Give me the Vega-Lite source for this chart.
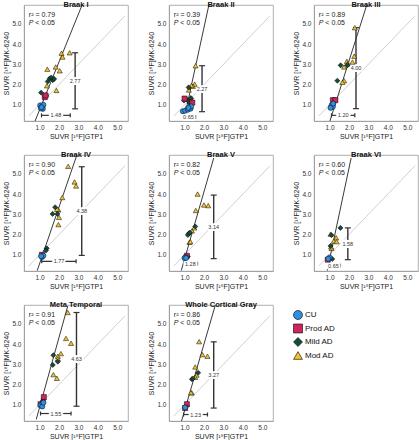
{
  "$schema": "https://vega.github.io/schema/vega-lite/v6.json",
  "background": "white",
  "padding": {"left": 2, "top": 0, "right": 0, "bottom": 0},
  "config": {
    "font": "Liberation Sans",
    "view": {"stroke": "#9a9a9a", "strokeWidth": 0.8},
    "axis": {"grid": false, "domainColor": "#9a9a9a", "domainWidth": 0.8, "ticks": false, "labelFontSize": 6.5, "labelColor": "#333", "labelPadding": 3, "labelOverlap": false, "labelFlush": false, "titleFontSize": 7, "titleFontWeight": "normal", "titleColor": "#222", "titlePadding": 2},
    "text": {"font": "Liberation Sans"}
  },
  "data": {"values": [
    {"p":"Braak I","k":"pt","g":"Mod AD","x":2.13,"y":3.55},{"p":"Braak I","k":"pt","g":"Mod AD","x":2.18,"y":3.36},{"p":"Braak I","k":"pt","g":"Mod AD","x":2.55,"y":3.57},{"p":"Braak I","k":"pt","g":"Mod AD","x":1.4,"y":2.76},{"p":"Braak I","k":"pt","g":"Mod AD","x":1.83,"y":2.87},{"p":"Braak I","k":"pt","g":"Mod AD","x":2.04,"y":2.68},{"p":"Braak I","k":"pt","g":"Mod AD","x":1.38,"y":1.94},{"p":"Braak I","k":"pt","g":"Mod AD","x":1.87,"y":1.71},{"p":"Braak I","k":"pt","g":"Mod AD","x":1.35,"y":1.53},
    {"p":"Braak I","k":"pt","g":"Mild AD","x":1.08,"y":1.6},{"p":"Braak I","k":"pt","g":"Mild AD","x":1.42,"y":2.15},{"p":"Braak I","k":"pt","g":"Mild AD","x":1.52,"y":2.3},{"p":"Braak I","k":"pt","g":"Mild AD","x":1.6,"y":2.35},{"p":"Braak I","k":"pt","g":"Mild AD","x":1.68,"y":2.22},{"p":"Braak I","k":"pt","g":"Mild AD","x":1.75,"y":2.28},
    {"p":"Braak I","k":"pt","g":"Prod AD","x":1.27,"y":1.38},{"p":"Braak I","k":"pt","g":"Prod AD","x":1.31,"y":1.46},
    {"p":"Braak I","k":"pt","g":"CU","x":1.03,"y":0.97},{"p":"Braak I","k":"pt","g":"CU","x":1.14,"y":0.9},{"p":"Braak I","k":"pt","g":"CU","x":1.17,"y":0.8},{"p":"Braak I","k":"pt","g":"CU","x":1.07,"y":0.82},{"p":"Braak I","k":"pt","g":"CU","x":1.2,"y":1.0},{"p":"Braak I","k":"pt","g":"CU","x":1.1,"y":0.88},
    {"p":"Braak I","k":"reg","x":0.74,"y":0.13,"x2":3.26,"y2":6.1},
    {"p":"Braak I","k":"vb","x":2.83,"y":0.8,"y2":3.57,"lx":2.83,"ly":2.19,"t":"2.77"},
    {"p":"Braak I","k":"hb","x":1.1,"x2":2.58,"y":0.48,"lx":1.84,"ly":0.48,"t":"1.48"},
    {"p":"Braak I","k":"stat","x":0.45,"y":5.42,"t":"r² = 0.79"},

    {"p":"Braak II","k":"pt","g":"Mod AD","x":1.57,"y":2.93},{"p":"Braak II","k":"pt","g":"Mod AD","x":1.52,"y":2.02},{"p":"Braak II","k":"pt","g":"Mod AD","x":1.43,"y":1.92},{"p":"Braak II","k":"pt","g":"Mod AD","x":1.35,"y":1.95},{"p":"Braak II","k":"pt","g":"Mod AD","x":1.22,"y":1.73},{"p":"Braak II","k":"pt","g":"Mod AD","x":1.09,"y":0.84},{"p":"Braak II","k":"pt","g":"Mod AD","x":1.3,"y":1.35},
    {"p":"Braak II","k":"pt","g":"Mild AD","x":1.21,"y":1.86},{"p":"Braak II","k":"pt","g":"Mild AD","x":0.97,"y":1.21},{"p":"Braak II","k":"pt","g":"Mild AD","x":1.14,"y":1.24},{"p":"Braak II","k":"pt","g":"Mild AD","x":1.26,"y":1.08},{"p":"Braak II","k":"pt","g":"Mild AD","x":1.34,"y":1.32},
    {"p":"Braak II","k":"pt","g":"Prod AD","x":1.0,"y":1.31},{"p":"Braak II","k":"pt","g":"Prod AD","x":1.4,"y":1.11},
    {"p":"Braak II","k":"pt","g":"CU","x":0.91,"y":0.68},{"p":"Braak II","k":"pt","g":"CU","x":1.03,"y":0.71},{"p":"Braak II","k":"pt","g":"CU","x":1.17,"y":0.76},{"p":"Braak II","k":"pt","g":"CU","x":1.31,"y":0.81},{"p":"Braak II","k":"pt","g":"CU","x":1.34,"y":0.92},{"p":"Braak II","k":"pt","g":"CU","x":1.2,"y":0.85},
    {"p":"Braak II","k":"reg","x":0.97,"y":0.27,"x2":2.29,"y2":6.1},
    {"p":"Braak II","k":"vb","x":1.9,"y":0.66,"y2":2.93,"lx":1.9,"ly":1.8,"t":"2.27"},
    {"p":"Braak II","k":"hb","x":0.92,"x2":1.57,"y":0.4,"lx":1.2,"ly":0.4,"t":"0.65"},
    {"p":"Braak II","k":"stat","x":0.45,"y":5.42,"t":"r² = 0.39"},

    {"p":"Braak III","k":"pt","g":"Mod AD","x":2.3,"y":4.81},{"p":"Braak III","k":"pt","g":"Mod AD","x":2.27,"y":3.4},{"p":"Braak III","k":"pt","g":"Mod AD","x":2.18,"y":3.11},{"p":"Braak III","k":"pt","g":"Mod AD","x":1.89,"y":3.15},{"p":"Braak III","k":"pt","g":"Mod AD","x":1.92,"y":3.03},{"p":"Braak III","k":"pt","g":"Mod AD","x":1.75,"y":2.87},{"p":"Braak III","k":"pt","g":"Mod AD","x":1.75,"y":2.19},{"p":"Braak III","k":"pt","g":"Mod AD","x":1.66,"y":2.11},
    {"p":"Braak III","k":"pt","g":"Mild AD","x":1.57,"y":2.95},{"p":"Braak III","k":"pt","g":"Mild AD","x":1.92,"y":2.95},{"p":"Braak III","k":"pt","g":"Mild AD","x":1.4,"y":2.19},
    {"p":"Braak III","k":"pt","g":"Prod AD","x":1.17,"y":1.23},{"p":"Braak III","k":"pt","g":"Prod AD","x":1.3,"y":1.23},
    {"p":"Braak III","k":"pt","g":"CU","x":1.1,"y":0.97},{"p":"Braak III","k":"pt","g":"CU","x":1.17,"y":0.9},{"p":"Braak III","k":"pt","g":"CU","x":1.05,"y":0.85},{"p":"Braak III","k":"pt","g":"CU","x":1.19,"y":1.06},
    {"p":"Braak III","k":"reg","x":0.97,"y":0.05,"x2":2.97,"y2":6.1},
    {"p":"Braak III","k":"vb","x":2.36,"y":0.81,"y2":4.81,"lx":2.36,"ly":2.81,"t":"4.00"},
    {"p":"Braak III","k":"hb","x":1.1,"x2":2.3,"y":0.48,"lx":1.7,"ly":0.48,"t":"1.20"},
    {"p":"Braak III","k":"stat","x":0.45,"y":5.42,"t":"r² = 0.89"},

    {"p":"Braak IV","k":"pt","g":"Mod AD","x":2.47,"y":5.37},{"p":"Braak IV","k":"pt","g":"Mod AD","x":2.8,"y":4.6},{"p":"Braak IV","k":"pt","g":"Mod AD","x":2.88,"y":4.4},{"p":"Braak IV","k":"pt","g":"Mod AD","x":2.17,"y":3.83},{"p":"Braak IV","k":"pt","g":"Mod AD","x":1.97,"y":3.22},{"p":"Braak IV","k":"pt","g":"Mod AD","x":1.9,"y":3.25},{"p":"Braak IV","k":"pt","g":"Mod AD","x":2.0,"y":2.85},{"p":"Braak IV","k":"pt","g":"Mod AD","x":1.97,"y":2.49},
    {"p":"Braak IV","k":"pt","g":"Mild AD","x":1.8,"y":3.35},{"p":"Braak IV","k":"pt","g":"Mild AD","x":1.67,"y":3.02},{"p":"Braak IV","k":"pt","g":"Mild AD","x":1.92,"y":3.02},{"p":"Braak IV","k":"pt","g":"Mild AD","x":1.37,"y":1.32},{"p":"Braak IV","k":"pt","g":"Mild AD","x":1.33,"y":1.21},
    {"p":"Braak IV","k":"pt","g":"Prod AD","x":1.12,"y":1.0},
    {"p":"Braak IV","k":"pt","g":"CU","x":1.13,"y":0.89},{"p":"Braak IV","k":"pt","g":"CU","x":1.2,"y":0.96},{"p":"Braak IV","k":"pt","g":"CU","x":1.08,"y":0.93},
    {"p":"Braak IV","k":"reg","x":0.88,"y":0.22,"x2":2.98,"y2":6.1},
    {"p":"Braak IV","k":"vb","x":3.17,"y":0.97,"y2":5.35,"lx":3.17,"ly":3.16,"t":"4.38"},
    {"p":"Braak IV","k":"hb","x":1.11,"x2":2.88,"y":0.68,"lx":2.0,"ly":0.68,"t":"1.77"},
    {"p":"Braak IV","k":"stat","x":0.45,"y":5.42,"t":"r² = 0.90"},

    {"p":"Braak V","k":"pt","g":"Mod AD","x":1.67,"y":4.0},{"p":"Braak V","k":"pt","g":"Mod AD","x":2.0,"y":3.46},{"p":"Braak V","k":"pt","g":"Mod AD","x":2.22,"y":3.43},{"p":"Braak V","k":"pt","g":"Mod AD","x":1.58,"y":3.19},{"p":"Braak V","k":"pt","g":"Mod AD","x":1.5,"y":2.33},{"p":"Braak V","k":"pt","g":"Mod AD","x":1.38,"y":2.18},{"p":"Braak V","k":"pt","g":"Mod AD","x":1.25,"y":1.62},{"p":"Braak V","k":"pt","g":"Mod AD","x":1.3,"y":1.65},
    {"p":"Braak V","k":"pt","g":"Mild AD","x":1.55,"y":2.4},{"p":"Braak V","k":"pt","g":"Mild AD","x":1.22,"y":2.05},{"p":"Braak V","k":"pt","g":"Mild AD","x":1.17,"y":1.98},{"p":"Braak V","k":"pt","g":"Mild AD","x":1.27,"y":2.1},{"p":"Braak V","k":"pt","g":"Mild AD","x":1.17,"y":0.92},
    {"p":"Braak V","k":"pt","g":"Prod AD","x":1.12,"y":0.95},
    {"p":"Braak V","k":"pt","g":"CU","x":1.05,"y":0.89},{"p":"Braak V","k":"pt","g":"CU","x":1.0,"y":0.84},{"p":"Braak V","k":"pt","g":"CU","x":1.08,"y":0.84},
    {"p":"Braak V","k":"reg","x":0.83,"y":0.22,"x2":2.5,"y2":5.78},
    {"p":"Braak V","k":"vb","x":2.5,"y":0.81,"y2":3.95,"lx":2.5,"ly":2.38,"t":"3.14"},
    {"p":"Braak V","k":"hb","x":0.97,"x2":1.67,"y":0.56,"lx":1.3,"ly":0.56,"t":"1.28"},
    {"p":"Braak V","k":"stat","x":0.45,"y":5.42,"t":"r² = 0.82"},

    {"p":"Braak VI","k":"pt","g":"Mod AD","x":1.05,"y":2.02},{"p":"Braak VI","k":"pt","g":"Mod AD","x":1.34,"y":1.84},{"p":"Braak VI","k":"pt","g":"Mod AD","x":1.22,"y":1.68},{"p":"Braak VI","k":"pt","g":"Mod AD","x":1.36,"y":1.65},{"p":"Braak VI","k":"pt","g":"Mod AD","x":1.1,"y":1.32},{"p":"Braak VI","k":"pt","g":"Mod AD","x":1.08,"y":1.4},
    {"p":"Braak VI","k":"pt","g":"Mild AD","x":1.56,"y":2.33},{"p":"Braak VI","k":"pt","g":"Mild AD","x":1.1,"y":1.97},{"p":"Braak VI","k":"pt","g":"Mild AD","x":1.05,"y":1.44},{"p":"Braak VI","k":"pt","g":"Mild AD","x":1.02,"y":0.84},{"p":"Braak VI","k":"pt","g":"Mild AD","x":1.14,"y":0.79},
    {"p":"Braak VI","k":"pt","g":"Prod AD","x":0.91,"y":0.76},
    {"p":"Braak VI","k":"pt","g":"CU","x":1.0,"y":0.87},{"p":"Braak VI","k":"pt","g":"CU","x":0.93,"y":0.8},
    {"p":"Braak VI","k":"reg","x":0.88,"y":0.22,"x2":2.11,"y2":5.78},
    {"p":"Braak VI","k":"vb","x":1.94,"y":0.76,"y2":2.33,"lx":1.94,"ly":1.55,"t":"1.58"},
    {"p":"Braak VI","k":"hb","x":0.91,"x2":1.56,"y":0.47,"lx":1.2,"ly":0.47,"t":"0.65"},
    {"p":"Braak VI","k":"stat","x":0.45,"y":5.42,"t":"r² = 0.60"},

    {"p":"Meta Temporal","k":"pt","g":"Mod AD","x":2.45,"y":5.56},{"p":"Meta Temporal","k":"pt","g":"Mod AD","x":2.36,"y":4.28},{"p":"Meta Temporal","k":"pt","g":"Mod AD","x":2.62,"y":4.04},{"p":"Meta Temporal","k":"pt","g":"Mod AD","x":2.1,"y":3.53},{"p":"Meta Temporal","k":"pt","g":"Mod AD","x":1.94,"y":3.4},{"p":"Meta Temporal","k":"pt","g":"Mod AD","x":1.94,"y":3.27},{"p":"Meta Temporal","k":"pt","g":"Mod AD","x":1.71,"y":2.49},{"p":"Meta Temporal","k":"pt","g":"Mod AD","x":1.89,"y":2.31},{"p":"Meta Temporal","k":"pt","g":"Mod AD","x":1.14,"y":1.19},
    {"p":"Meta Temporal","k":"pt","g":"Mild AD","x":1.71,"y":3.45},{"p":"Meta Temporal","k":"pt","g":"Mild AD","x":1.68,"y":2.97},{"p":"Meta Temporal","k":"pt","g":"Mild AD","x":1.94,"y":3.13},{"p":"Meta Temporal","k":"pt","g":"Mild AD","x":1.2,"y":1.27},{"p":"Meta Temporal","k":"pt","g":"Mild AD","x":1.17,"y":1.2},
    {"p":"Meta Temporal","k":"pt","g":"Prod AD","x":1.22,"y":1.38},{"p":"Meta Temporal","k":"pt","g":"Prod AD","x":1.05,"y":1.03},
    {"p":"Meta Temporal","k":"pt","g":"CU","x":1.05,"y":0.97},{"p":"Meta Temporal","k":"pt","g":"CU","x":1.14,"y":0.92},{"p":"Meta Temporal","k":"pt","g":"CU","x":1.2,"y":1.11},
    {"p":"Meta Temporal","k":"reg","x":0.83,"y":0.28,"x2":2.45,"y2":5.88},
    {"p":"Meta Temporal","k":"vb","x":2.9,"y":0.93,"y2":5.56,"lx":2.9,"ly":3.25,"t":"4.63"},
    {"p":"Meta Temporal","k":"hb","x":1.05,"x2":2.62,"y":0.57,"lx":1.84,"ly":0.57,"t":"1.55"},
    {"p":"Meta Temporal","k":"stat","x":0.45,"y":5.42,"t":"r² = 0.91"},

    {"p":"Whole Cortical Gray","k":"pt","g":"Mod AD","x":1.75,"y":4.12},{"p":"Whole Cortical Gray","k":"pt","g":"Mod AD","x":1.92,"y":3.48},{"p":"Whole Cortical Gray","k":"pt","g":"Mod AD","x":2.18,"y":3.4},{"p":"Whole Cortical Gray","k":"pt","g":"Mod AD","x":1.55,"y":2.87},{"p":"Whole Cortical Gray","k":"pt","g":"Mod AD","x":1.62,"y":2.47},{"p":"Whole Cortical Gray","k":"pt","g":"Mod AD","x":1.55,"y":2.36},{"p":"Whole Cortical Gray","k":"pt","g":"Mod AD","x":1.37,"y":1.59},{"p":"Whole Cortical Gray","k":"pt","g":"Mod AD","x":1.33,"y":1.6},
    {"p":"Whole Cortical Gray","k":"pt","g":"Mild AD","x":1.7,"y":2.58},{"p":"Whole Cortical Gray","k":"pt","g":"Mild AD","x":1.38,"y":2.26},{"p":"Whole Cortical Gray","k":"pt","g":"Mild AD","x":1.43,"y":2.3},{"p":"Whole Cortical Gray","k":"pt","g":"Mild AD","x":1.12,"y":0.95},
    {"p":"Whole Cortical Gray","k":"pt","g":"Prod AD","x":1.12,"y":1.03},{"p":"Whole Cortical Gray","k":"pt","g":"Prod AD","x":1.03,"y":0.84},
    {"p":"Whole Cortical Gray","k":"pt","g":"CU","x":1.03,"y":0.87},
    {"p":"Whole Cortical Gray","k":"reg","x":0.83,"y":0.15,"x2":2.58,"y2":5.91},
    {"p":"Whole Cortical Gray","k":"vb","x":2.5,"y":0.84,"y2":4.11,"lx":2.5,"ly":2.48,"t":"3.27"},
    {"p":"Whole Cortical Gray","k":"hb","x":0.95,"x2":2.18,"y":0.52,"lx":1.57,"ly":0.52,"t":"1.23"},
    {"p":"Whole Cortical Gray","k":"stat","x":0.45,"y":5.42,"t":"r² = 0.86"},

    {"p":"Braak I","k":"id","x":0.45,"y":0.45,"x2":5.4,"y2":5.4},
    {"p":"Braak II","k":"id","x":0.45,"y":0.45,"x2":5.4,"y2":5.4},
    {"p":"Braak III","k":"id","x":0.45,"y":0.45,"x2":5.4,"y2":5.4},
    {"p":"Braak IV","k":"id","x":0.45,"y":0.45,"x2":5.4,"y2":5.4},
    {"p":"Braak V","k":"id","x":0.45,"y":0.45,"x2":5.4,"y2":5.4},
    {"p":"Braak VI","k":"id","x":0.45,"y":0.45,"x2":5.4,"y2":5.4},
    {"p":"Meta Temporal","k":"id","x":0.45,"y":0.45,"x2":5.4,"y2":5.4},
    {"p":"Whole Cortical Gray","k":"id","x":0.45,"y":0.45,"x2":5.4,"y2":5.4}
  ]},
  "facet": {"field": "p", "type": "nominal", "sort": ["Braak I","Braak II","Braak III","Braak IV","Braak V","Braak VI","Meta Temporal","Whole Cortical Gray"],
    "header": {"title": null, "labelFontWeight": "bold", "labelFontSize": 7.5, "labelColor": "#111", "labelPadding": -3}},
  "columns": 3,
  "spacing": {"row": 10, "column": 18},
  "resolve": {"axis": {"x": "independent", "y": "independent"}},
  "spec": {
    "width": 104,
    "height": 116,
    "layer": [
      {"transform": [{"filter": "datum.k === 'id'"}],
       "mark": {"type": "rule", "color": "#c4c4c4", "strokeWidth": 0.8},
       "encoding": {
         "x": {"field": "x", "type": "quantitative", "scale": {"domain": [0.2, 5.55], "nice": false, "zero": false}, "axis": {"title": "SUVR [¹⁸F]GTP1", "values": [1,2,3,4,5], "tickCount": 10, "format": ".1f", "labelOverlap": false, "labelFlush": false}},
         "y": {"field": "y", "type": "quantitative", "scale": {"domain": [0.2, 5.93], "nice": false, "zero": false}, "axis": {"title": "SUVR [¹⁸F]MK-6240", "values": [1,2,3,4,5], "tickCount": 10, "format": ".1f", "labelOverlap": false, "labelFlush": false}},
         "x2": {"field": "x2"}, "y2": {"field": "y2"}}},
      {"transform": [{"filter": "datum.k === 'reg'"}],
       "mark": {"type": "rule", "color": "#3a3a3a", "strokeWidth": 1, "clip": true},
       "encoding": {"x": {"field": "x", "type": "quantitative"}, "y": {"field": "y", "type": "quantitative"}, "x2": {"field": "x2"}, "y2": {"field": "y2"}}},
      {"transform": [{"filter": "datum.k === 'vb'"}],
       "mark": {"type": "rule", "color": "#333", "strokeWidth": 1.4},
       "encoding": {"x": {"field": "x", "type": "quantitative"}, "y": {"field": "y", "type": "quantitative"}, "y2": {"field": "y2"}}},
      {"transform": [{"filter": "datum.k === 'vb'"}],
       "mark": {"type": "tick", "orient": "horizontal", "color": "#333", "size": 6, "thickness": 1.2, "opacity": 1},
       "encoding": {"x": {"field": "x", "type": "quantitative"}, "y": {"field": "y", "type": "quantitative"}}},
      {"transform": [{"filter": "datum.k === 'vb'"}],
       "mark": {"type": "tick", "orient": "horizontal", "color": "#333", "size": 6, "thickness": 1.2, "opacity": 1},
       "encoding": {"x": {"field": "x", "type": "quantitative"}, "y": {"field": "y2", "type": "quantitative"}}},
      {"transform": [{"filter": "datum.k === 'hb'"}],
       "mark": {"type": "rule", "color": "#333", "strokeWidth": 1.2},
       "encoding": {"x": {"field": "x", "type": "quantitative"}, "x2": {"field": "x2"}, "y": {"field": "y", "type": "quantitative"}}},
      {"transform": [{"filter": "datum.k === 'hb'"}],
       "mark": {"type": "tick", "orient": "vertical", "color": "#333", "size": 4, "thickness": 1.2, "opacity": 1},
       "encoding": {"x": {"field": "x", "type": "quantitative"}, "y": {"field": "y", "type": "quantitative"}}},
      {"transform": [{"filter": "datum.k === 'hb'"}],
       "mark": {"type": "tick", "orient": "vertical", "color": "#333", "size": 4, "thickness": 1.2, "opacity": 1},
       "encoding": {"x": {"field": "x2", "type": "quantitative"}, "y": {"field": "y", "type": "quantitative"}}},
      {"transform": [{"filter": "datum.k === 'vb' || datum.k === 'hb'"}],
       "mark": {"type": "text", "fontSize": 5.5, "stroke": "white", "strokeWidth": 4, "fill": "white"},
       "encoding": {"x": {"field": "lx", "type": "quantitative"}, "y": {"field": "ly", "type": "quantitative"}, "text": {"field": "t"}}},
      {"transform": [{"filter": "datum.k === 'vb' || datum.k === 'hb'"}],
       "mark": {"type": "text", "fontSize": 5.5, "color": "#333"},
       "encoding": {"x": {"field": "lx", "type": "quantitative"}, "y": {"field": "ly", "type": "quantitative"}, "text": {"field": "t"}}},
      {"transform": [{"filter": "datum.k === 'pt'"}],
       "mark": {"type": "point", "filled": true, "stroke": "black", "strokeWidth": 0.5, "size": 26, "opacity": 1},
       "encoding": {
         "x": {"field": "x", "type": "quantitative"},
         "y": {"field": "y", "type": "quantitative"},
         "fill": {"field": "g", "type": "nominal", "scale": {"domain": ["CU","Prod AD","Mild AD","Mod AD"], "range": ["#2f8fe0","#d0245f","#164a39","#f2c12e"]},
                  "legend": {"orient": "none", "legendX": 269, "legendY": 305, "title": null, "labelFontSize": 8, "labelColor": "#111", "symbolSize": 80, "symbolStrokeColor": "black", "symbolStrokeWidth": 0.6, "rowPadding": 1.5, "labelOffset": 2}},
         "shape": {"field": "g", "type": "nominal", "scale": {"domain": ["CU","Prod AD","Mild AD","Mod AD"], "range": ["circle","square","diamond","triangle-up"]}}}},
      {"transform": [{"filter": "datum.k === 'stat'"}],
       "mark": {"type": "text", "fontSize": 7, "align": "left", "color": "#222"},
       "encoding": {"x": {"field": "x", "type": "quantitative"}, "y": {"field": "y", "type": "quantitative"}, "text": {"field": "t"}}},
      {"transform": [{"filter": "datum.k === 'stat'"}],
       "mark": {"type": "text", "fontSize": 7, "align": "left", "fontStyle": "italic", "color": "#222", "dy": 8},
       "encoding": {"x": {"field": "x", "type": "quantitative"}, "y": {"field": "y", "type": "quantitative"}, "text": {"value": "P"}}},
      {"transform": [{"filter": "datum.k === 'stat'"}],
       "mark": {"type": "text", "fontSize": 7, "align": "left", "color": "#222", "dy": 8, "dx": 6.5},
       "encoding": {"x": {"field": "x", "type": "quantitative"}, "y": {"field": "y", "type": "quantitative"}, "text": {"value": "< 0.05"}}}
    ]
  }
}
